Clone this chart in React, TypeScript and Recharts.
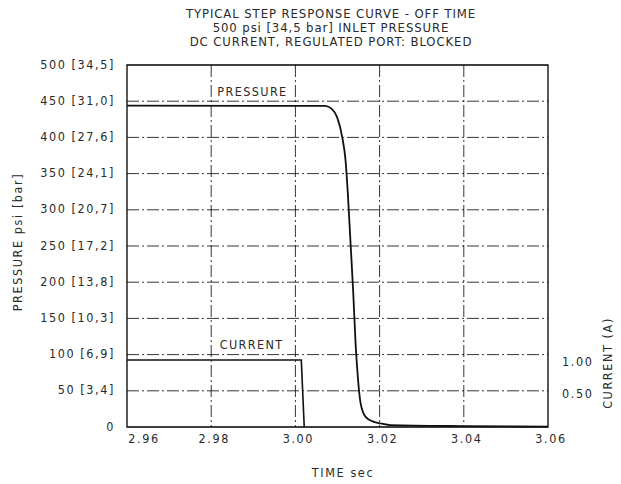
import React from 'react';
import { LineChart, Line, XAxis, YAxis, CartesianGrid, ReferenceArea, ReferenceDot } from 'recharts';

const titleLines = [
  'TYPICAL STEP RESPONSE CURVE - OFF TIME',
  '500 psi [34,5 bar] INLET PRESSURE',
  'DC CURRENT, REGULATED PORT: BLOCKED',
];

const timeTicks = [2.96, 2.98, 3.0, 3.02, 3.04, 3.06];
const psiTicks = [0, 50, 100, 150, 200, 250, 300, 350, 400, 450, 500];
const barLabels = ['', '3,4', '6,9', '10,3', '13,8', '17,2', '20,7', '24,1', '27,6', '31,0', '34,5'];
const ampTicks = [0.5, 1.0];

const pressureTime = [2.96, 3.0071, 3.0087, 3.0099, 3.0111, 3.0119, 3.01245, 3.0131, 3.01374, 3.01429, 3.01483, 3.01548, 3.01667, 3.01864, 3.0202, 3.0226, 3.04, 3.06];
const pressurePsi = [444, 443.5, 439, 428, 401, 369, 323, 254, 185, 116, 69, 33, 14, 7, 5, 2.5, 1.2, 0.5];

const currentTime = [2.96, 3.0014, 3.0021];
const currentAmp = [1.03, 1.03, 0];

const pressureData = pressureTime.map((t, i) => ({ t, psi: pressurePsi[i] }));
const currentData = currentTime.map((t, i) => ({ t, amp: currentAmp[i] }));

const FONT = '"Liberation Sans Narrow", "DejaVu Sans Condensed", "DejaVu Sans", sans-serif';
const INK = '#2a2a2a';
const txt: React.CSSProperties = { fontFamily: FONT, fontSize: 12.5, letterSpacing: 1.6, color: INK, whiteSpace: 'nowrap' };

const XTick = (props: any) => {
  const { x, y, payload, index } = props;
  const dx = index === 0 ? 17 : 3;
  return (
    <text x={x + dx} y={y + 4} textAnchor="middle" dominantBaseline="middle" fill={INK} fontFamily={FONT} fontSize={12.5} letterSpacing={1.6}>
      {payload.value.toFixed(2)}
    </text>
  );
};

const YTick = (props: any) => {
  const { x, y, payload } = props;
  const i = psiTicks.indexOf(payload.value);
  const label = barLabels[i] ? `${payload.value} [${barLabels[i]}]` : `${payload.value}`;
  return (
    <text x={x - 4} y={y} textAnchor="end" dominantBaseline="middle" fill={INK} fontFamily={FONT} fontSize={12.5} letterSpacing={1.6}>
      {label}
    </text>
  );
};

const RTick = (props: any) => {
  const { x, y, payload } = props;
  return (
    <text x={x + 6} y={y} textAnchor="start" dominantBaseline="middle" fill={INK} fontFamily={FONT} fontSize={12.5} letterSpacing={1.6}>
      {payload.value.toFixed(2)}
    </text>
  );
};

export default function App() {
  return (
    <div style={{ position: 'absolute', left: 0, top: 0, width: 621, height: 484, background: '#fff' }}>
      {titleLines.map((line, i) => (
        <div key={i} style={{ ...txt, position: 'absolute', left: 331, top: 14 + i * 14, transform: 'translate(-50%, -50%)', fontSize: 13, letterSpacing: 0.9, lineHeight: '14px' }}>
          {line}
        </div>
      ))}
      <LineChart width={621} height={484} data={pressureData} margin={{ top: 65, right: 0, left: 0, bottom: 0 }}>
        <CartesianGrid
          stroke="#000"
          strokeWidth={0.8}
          strokeDasharray="12 3 2 3"
          horizontalValues={[50, 100, 150, 200, 250, 300, 350, 400, 450]}
          verticalValues={[2.98, 3.0, 3.02, 3.04]}
          yAxisId="psi"
        />
        <XAxis
          dataKey="t"
          type="number"
          domain={[2.96, 3.06]}
          ticks={timeTicks}
          tick={<XTick />}
          tickLine={false}
          axisLine={false}
          height={57}
          allowDataOverflow
        />
        <YAxis
          yAxisId="psi"
          type="number"
          domain={[0, 500]}
          ticks={psiTicks}
          tick={<YTick />}
          tickLine={false}
          axisLine={false}
          width={127}
          interval={0}
        />
        <YAxis
          yAxisId="amp"
          orientation="right"
          type="number"
          domain={[0, 5.57]}
          ticks={ampTicks}
          tick={<RTick />}
          tickLine={false}
          axisLine={false}
          width={73}
          interval={0}
        />
        <ReferenceArea yAxisId="psi" x1={2.96} x2={3.06} y1={0} y2={500} fill="none" stroke="#000" strokeWidth={1.3} />
        <Line yAxisId="psi" data={pressureData} dataKey="psi" type="monotone" stroke="#111" strokeWidth={1.8} dot={false} isAnimationActive={false} />
        <Line yAxisId="amp" data={currentData} dataKey="amp" type="linear" stroke="#111" strokeWidth={1.6} dot={false} isAnimationActive={false} />
        <ReferenceDot yAxisId="psi" x={2.9898} y={464} r={0} stroke="none" label={{ value: 'PRESSURE', position: 'center', fill: INK, fontFamily: FONT, fontSize: 12.5, letterSpacing: 1.4 }} />
        <ReferenceDot yAxisId="psi" x={2.9896} y={114} r={0} stroke="none" label={{ value: 'CURRENT', position: 'center', fill: INK, fontFamily: FONT, fontSize: 12.5, letterSpacing: 1.4 }} />
      </LineChart>
      <div style={{ ...txt, position: 'absolute', left: 343, top: 472, transform: 'translate(-50%, -50%)' }}>TIME sec</div>
      <div style={{ ...txt, position: 'absolute', left: 17, top: 242, transform: 'translate(-50%, -50%) rotate(-90deg)' }}>PRESSURE psi [bar]</div>
      <div style={{ ...txt, position: 'absolute', left: 607, top: 363, transform: 'translate(-50%, -50%) rotate(-90deg)' }}>CURRENT (A)</div>
    </div>
  );
}
